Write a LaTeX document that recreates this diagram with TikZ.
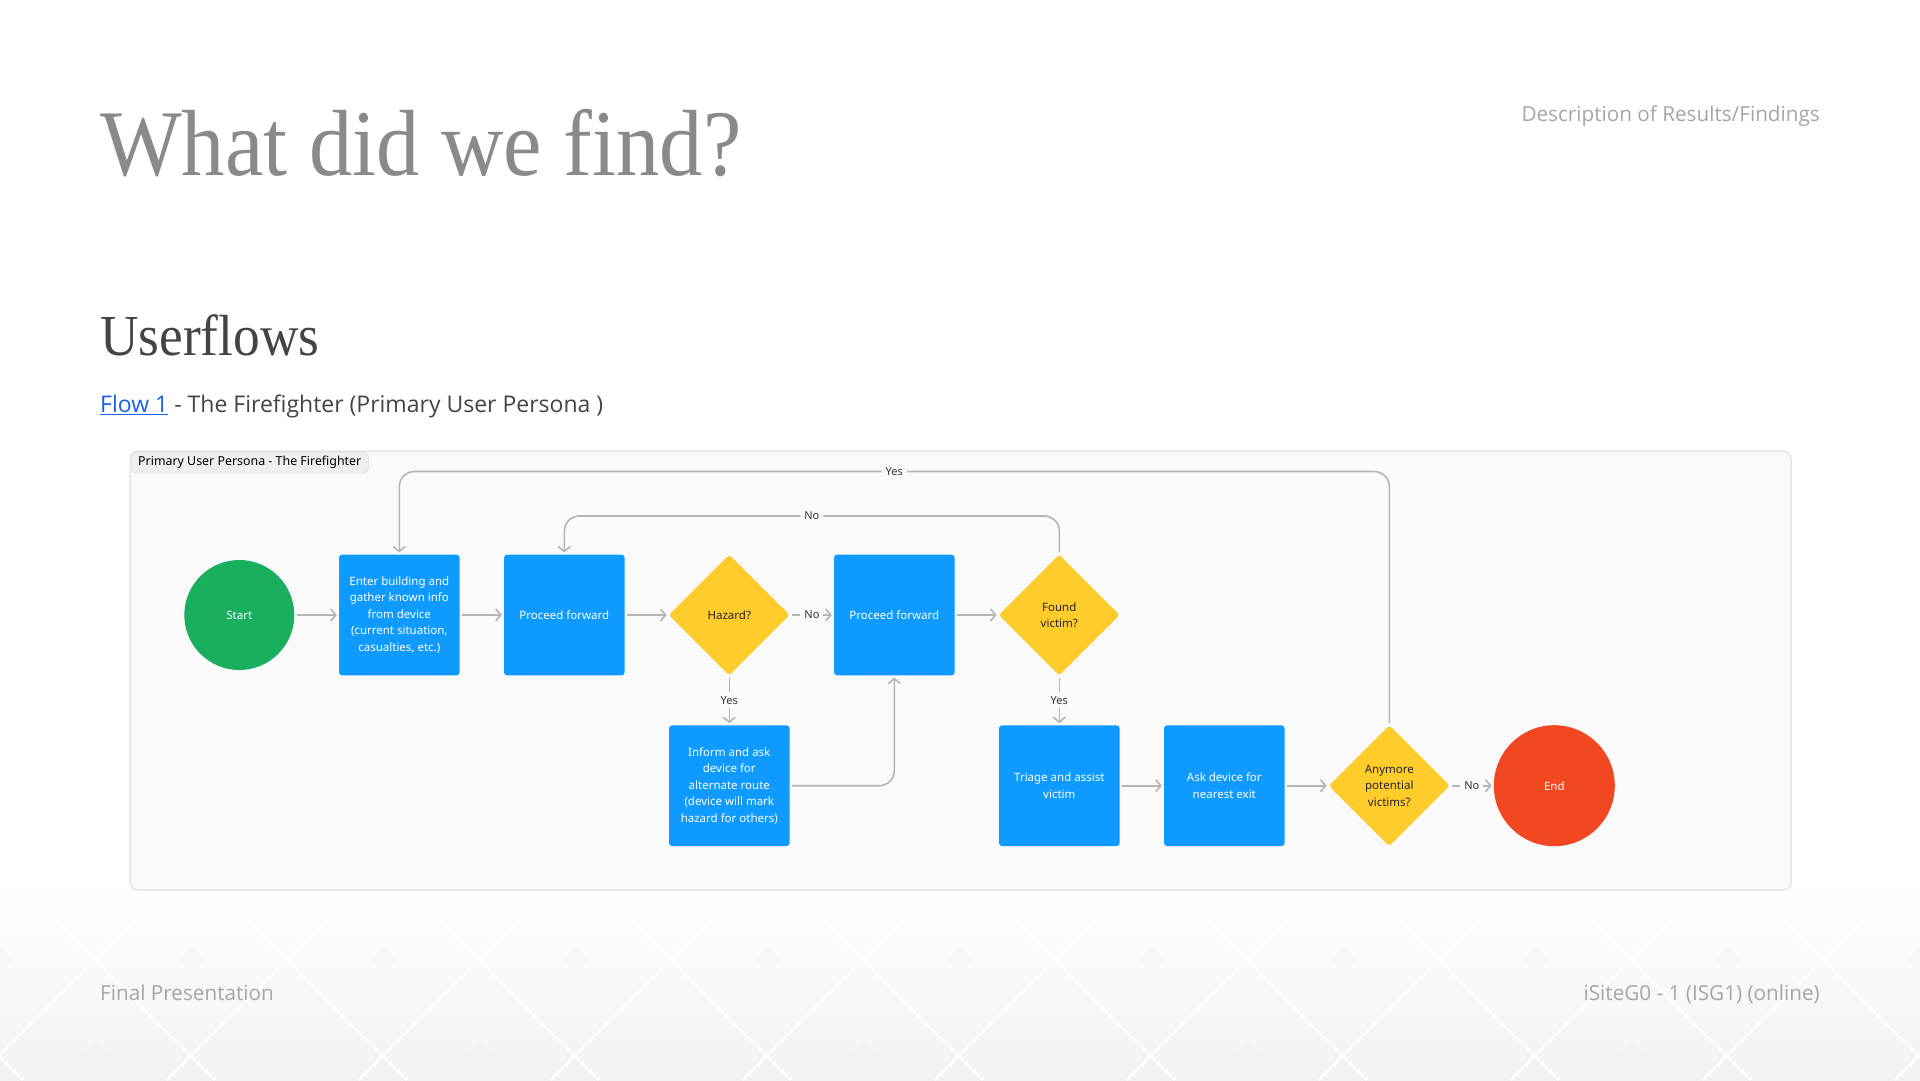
\documentclass[tikz,border=0pt]{standalone}
\usepackage{fontspec}
\usetikzlibrary{shapes.geometric,arrows.meta}
\setmainfont{Liberation Serif}
\newfontfamily\slidefont{Open Sans}
\newfontfamily\flowfont{Noto Sans}
\definecolor{boxblue}{HTML}{0F9AFF}
\definecolor{decyellow}{HTML}{FFCC2C}
\definecolor{startgreen}{HTML}{19AF5F}
\definecolor{endred}{HTML}{F24822}
\definecolor{linegray}{HTML}{B5B5B5}
\definecolor{panelfill}{HTML}{FAFAFA}
\definecolor{panelline}{HTML}{E6E6E6}
\definecolor{tagfill}{HTML}{EFEFEF}
\definecolor{tagline}{HTML}{D6D6D6}
\definecolor{titlegray}{HTML}{8A8A8A}
\definecolor{headgray}{HTML}{444444}
\definecolor{bodygray}{HTML}{444444}
\definecolor{softgray}{HTML}{A6A6A6}
\definecolor{linkblue}{HTML}{1A5FE6}

\begin{document}
\begin{tikzpicture}[x=1pt, y=-1pt, node distance=165pt,
    box/.style={rectangle, rounded corners=3pt, fill=boxblue, text=white, minimum size=120.6pt, inner sep=0pt, align=center, font=\flowfont\fontsize{11.5}{16.5}\selectfont},
    decision/.style={diamond, aspect=1, rounded corners=3pt, fill=decyellow, text=black!85, minimum width=121pt, minimum height=121pt, inner sep=0pt, align=center, font=\flowfont\fontsize{11.5}{16.5}\selectfont},
    terminal/.style={circle, text=white, inner sep=0pt, font=\flowfont\fontsize{11.5}{16.5}\selectfont},
    flow/.style={draw=linegray, line width=1.6pt, -{Straight Barb[length=5pt, width=12pt]}, shorten >=2pt, shorten <=2pt},
    lbl/.style={fill=panelfill, text=black!80, inner sep=4pt, font=\flowfont\fontsize{11}{13}\selectfont},
    slide/.style={inner sep=0pt, font=\slidefont\fontsize{20.7}{24}\selectfont, text=softgray}]

    \useasboundingbox (0,0) rectangle (1920,1080);
    \fill[white] (0,0) rectangle (1920,1080);
    \shade[top color=white, bottom color=black!5] (0,880) rectangle (1920,1080);
    \foreach \c in {-97,95,...,2015} {
        \draw[white, line width=2pt] (\c-80,880) -- (\c+120,1080);
        \draw[white, line width=2pt] (\c+80,880) -- (\c-120,1080);
    }
    \foreach \c in {0,192,...,1920}
        \fill[black!3] (\c,946.5) -- (\c+13.5,960) -- (\c,973.5) -- (\c-13.5,960) -- cycle;
    \foreach \c in {96,480,...,1920}
        \fill[black!5] (\c,1041.5) -- (\c+13.5,1055) -- (\c,1068.5) -- (\c-13.5,1055) -- cycle;

    \node[anchor=base west, inner sep=0pt, text=titlegray, font=\fontsize{94}{94}\selectfont] (title) at (100,175) {\scalebox{0.92}[1]{What did we find?}};
    \node[slide, anchor=base east] (section) at (1820,121) {Description of Results/Findings};
    \node[anchor=base west, inner sep=0pt, text=headgray, font=\fontsize{58}{58}\selectfont] (userflows) at (100,355) {\scalebox{0.92}[1]{Userflows}};
    \node[anchor=base west, inner sep=0pt, text=bodygray, font=\slidefont\fontsize{23}{27}\selectfont] (flowline) at (100,412.6) {{\color{linkblue}\underline{Flow 1}} - The Firefighter (Primary User Persona )};
    \node[slide, anchor=base west] (footleft) at (100,1000) {Final Presentation};
    \node[slide, anchor=base east] (footright) at (1820,1000) {iSiteG0 - 1 (ISG1) (online)};

    \node[draw=panelline, fill=panelfill, line width=1.5pt, rounded corners=8pt, minimum width=1661pt, minimum height=439pt] (panel) at (960.5,670.5) {};
    \node[anchor=north west, draw=tagline, fill=tagfill, rounded corners=5pt, minimum height=21pt, inner xsep=7pt, inner ysep=0pt, text=black, font=\flowfont\fontsize{12.4}{14}\selectfont] (persona) at (131,452) {Primary User Persona - The Firefighter};

    \node[terminal, fill=startgreen, minimum size=110pt] (start) at (239.3,615) {Start};
    \node[box] (enter) at ([shift=(0:160)] start) {Enter building and\\gather known info\\from device\\(current situation,\\casualties, etc.)};
    \node[box] (proceedA) [right of=enter] {Proceed forward};
    \node[decision] (hazard) [right of=proceedA] {Hazard?};
    \node[box] (proceedB) [right of=hazard] {Proceed forward};
    \node[decision] (found) [right of=proceedB] {Found\\victim?};
    \node[box] (inform) [below of=hazard, node distance=170.7pt] {Inform and ask\\device for\\alternate route\\(device will mark\\hazard for others)};
    \node[box] (triage) [below of=found, node distance=170.7pt] {Triage and assist\\victim};
    \node[box] (exit) [right of=triage] {Ask device for\\nearest exit};
    \node[decision] (more) [right of=exit] {Anymore\\potential\\victims?};
    \node[terminal, fill=endred, minimum size=121pt] (end) [right of=more] {End};

    \draw[flow] (start) -- (enter);
    \draw[flow] (enter) -- (proceedA);
    \draw[flow] (proceedA) -- (hazard);
    \draw[flow] (hazard) -- node[lbl] {No} (proceedB);
    \draw[flow] (proceedB) -- (found);
    \draw[flow, rounded corners=15pt] (found.north) -- ++(0,-38.3) -| node[lbl, pos=0.25] {No} (proceedA.north);
    \draw[flow] (hazard) -- node[lbl] {Yes} (inform);
    \draw[flow, rounded corners=15pt] (inform.east) -| (proceedB.south);
    \draw[flow] (found) -- node[lbl] {Yes} (triage);
    \draw[flow] (triage) -- (exit);
    \draw[flow] (exit) -- (more);
    \draw[flow] (more) -- node[lbl] {No} (end);
    \draw[flow, rounded corners=15pt] (more.north) -- ++(0,-253.5) -| node[lbl, pos=0.25] {Yes} (enter.north);
\end{tikzpicture}
\end{document}
